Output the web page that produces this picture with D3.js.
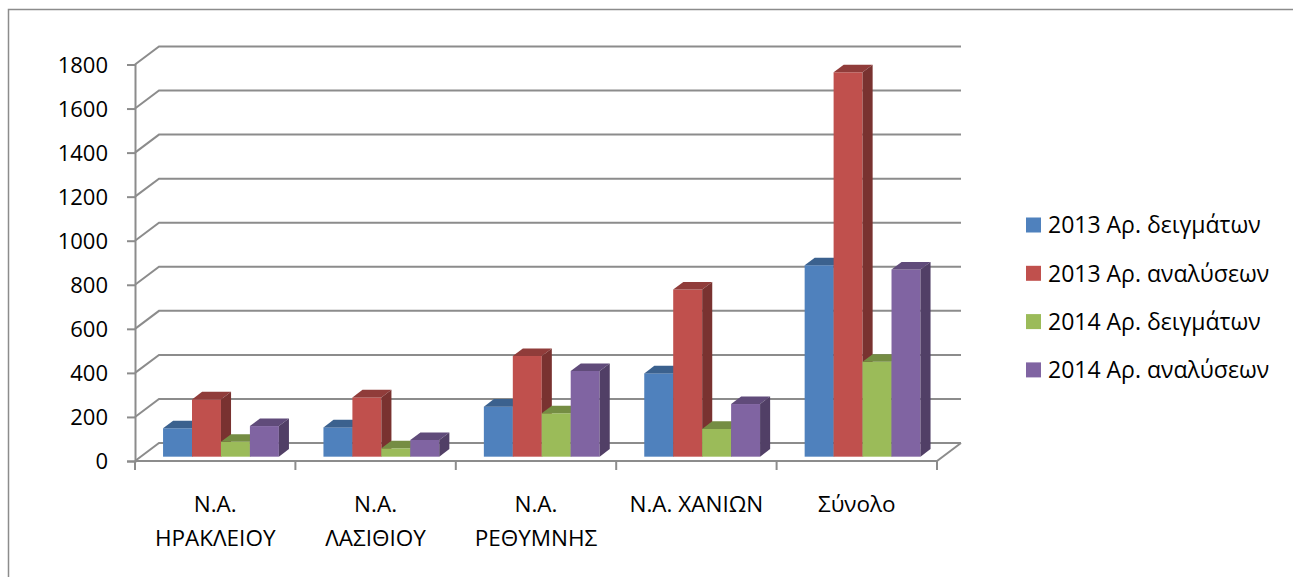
<!DOCTYPE html>
<html>
<head>
<meta charset="utf-8">
<script src="https://cdn.jsdelivr.net/npm/d3@7"></script>
<style>
  body { margin: 0; background: #fff; }
  text { font-family: "Open Sans", "Noto Sans", sans-serif; fill: #000; }
  .grid { stroke: #8c8c8c; stroke-width: 2; fill: none; }
</style>
</head>
<body>
<div id="chart"></div>
<script>
////////// Data ///////////
var categories = ["Ν.Α. ΗΡΑΚΛΕΙΟΥ", "Ν.Α. ΛΑΣΙΘΙΟΥ", "Ν.Α. ΡΕΘΥΜΝΗΣ", "Ν.Α. ΧΑΝΙΩΝ", "Σύνολο"];
var seriesNames = ["2013 Αρ. δειγμάτων", "2013 Αρ. αναλύσεων", "2014 Αρ. δειγμάτων", "2014 Αρ. αναλύσεων"];
var samples2013 = [129, 133, 227, 378, 869];
var analyses2013 = [260, 269, 457, 759, 1745];
var samples2014 = [68, 38, 197, 126, 431];
var analyses2014 = [139, 76, 389, 239, 850];
var yTicks = [0, 200, 400, 600, 800, 1000, 1200, 1400, 1600, 1800];
var colors = ["#4F81BD", "#C0504D", "#9BBB59", "#8064A2"];

var seriesValues = [samples2013, analyses2013, samples2014, analyses2014];

////////// Layout ///////////
var width = 1293, height = 577;
var DX = 24, DY = -18;          // depth of the 3d floor / walls
var f0 = 0.24, f1 = 0.66;       // bar front and back, as fraction of depth

var svg = d3.select("#chart").append("svg")
  .attr("width", width)
  .attr("height", height);

// outer frame (only top and left show)
svg.append("path")
  .attr("d", "M8.5,577 V9.5 H1293")
  .attr("stroke", "#8c8c8c")
  .attr("stroke-width", 1.5)
  .attr("fill", "none");

var y = d3.scaleLinear().domain([0, 1800]).range([461, 64.5]);
var x = d3.scaleBand().domain(categories).range([135, 937]);
var xs = d3.scaleBand().domain(seriesNames).range([0, x.bandwidth()]).paddingOuter(0.77);

// back wall gridlines with the side-wall diagonal
var grid = svg.append("g");
yTicks.forEach(function(t) {
  grid.append("path")
    .attr("class", "grid")
    .attr("d", "M135," + y(t) + " L" + (135 + DX) + "," + (y(t) + DY)
      + " H" + (937 + DX));
});

// floor front edge and right diagonal
grid.append("path")
  .attr("class", "grid")
  .attr("d", "M135," + y(0) + " H937 L" + (937 + DX) + "," + (y(0) + DY));

// value axis
var yAxis = svg.append("g")
  .attr("transform", "translate(135,0)")
  .call(d3.axisLeft(y).tickValues(yTicks).tickFormat(d3.format("d"))
    .tickSize(8).tickPadding(19));
yAxis.select(".domain").attr("stroke", "#8c8c8c").attr("stroke-width", 2);
yAxis.selectAll(".tick line").attr("stroke", "#8c8c8c").attr("stroke-width", 2);
yAxis.selectAll(".tick text")
  .style("font-family", "'Open Sans', sans-serif")
  .style("font-size", "22px")
  .attr("dy", "0.36em");

// category boundary ticks
var bounds = categories.map(function(c) { return x(c); }).concat([x.range()[1]]);
svg.append("g").selectAll("line")
  .data(bounds)
  .enter().append("line")
  .attr("x1", function(d) { return d; })
  .attr("x2", function(d) { return d; })
  .attr("y1", y(0))
  .attr("y2", y(0) + 9)
  .attr("stroke", "#8c8c8c")
  .attr("stroke-width", 2);

// category labels, wrapped when too wide for the band
var catLabels = svg.append("g").selectAll("text")
  .data(categories)
  .enter().append("text")
  .attr("text-anchor", "middle")
  .style("font-size", "22.5px")
  .attr("x", function(d) { return x(d) + x.bandwidth() / 2; })
  .attr("y", 512)
  .text(function(d) { return d; });

catLabels.each(function(d) {
  var t = d3.select(this);
  if (this.getComputedTextLength() > x.bandwidth() * 0.9) {
    var cut = d.indexOf(" ");
    t.text(null);
    t.append("tspan").attr("x", t.attr("x")).text(d.slice(0, cut));
    t.append("tspan").attr("x", t.attr("x")).attr("dy", 34).text(d.slice(cut + 1));
  }
});

// 3d bars
var bars = svg.append("g");
categories.forEach(function(c, ci) {
  seriesNames.forEach(function(s, si) {
    var v = seriesValues[si][ci];
    var xl = x(c) + xs(s) + f0 * DX;
    var xr = xl + xs.bandwidth();
    var yb = y(0) + f0 * DY;
    var yt = y(v) + f0 * DY;
    var dx = (f1 - f0) * DX, dy = (f1 - f0) * DY;
    var base = d3.color(colors[si]);

    bars.append("rect")
      .attr("x", xl).attr("y", yt)
      .attr("width", xr - xl).attr("height", yb - yt)
      .attr("fill", base);
    bars.append("path")
      .attr("d", "M" + xl + "," + yt + " L" + xr + "," + yt + " L" + (xr + dx) + "," + (yt + dy)
        + " L" + (xl + dx) + "," + (yt + dy) + "Z")
      .attr("fill", base.darker(0.8));
    bars.append("path")
      .attr("d", "M" + xr + "," + yt + " L" + (xr + dx) + "," + (yt + dy) + " L" + (xr + dx) + "," + (yb + dy)
        + " L" + xr + "," + yb + "Z")
      .attr("fill", base.darker(1.3));
  });
});

// legend
var legend = svg.append("g").selectAll("g")
  .data(seriesNames)
  .enter().append("g")
  .attr("transform", function(d, i) { return "translate(1026," + (225 + i * 48.3) + ")"; });

legend.append("rect")
  .attr("x", 0).attr("y", -7.5)
  .attr("width", 15).attr("height", 15)
  .attr("fill", function(d, i) { return colors[i]; });

legend.append("text")
  .attr("x", 22)
  .attr("dy", "0.36em")
  .style("font-size", "23px")
  .text(function(d) { return d; });
</script>
</body>
</html>
